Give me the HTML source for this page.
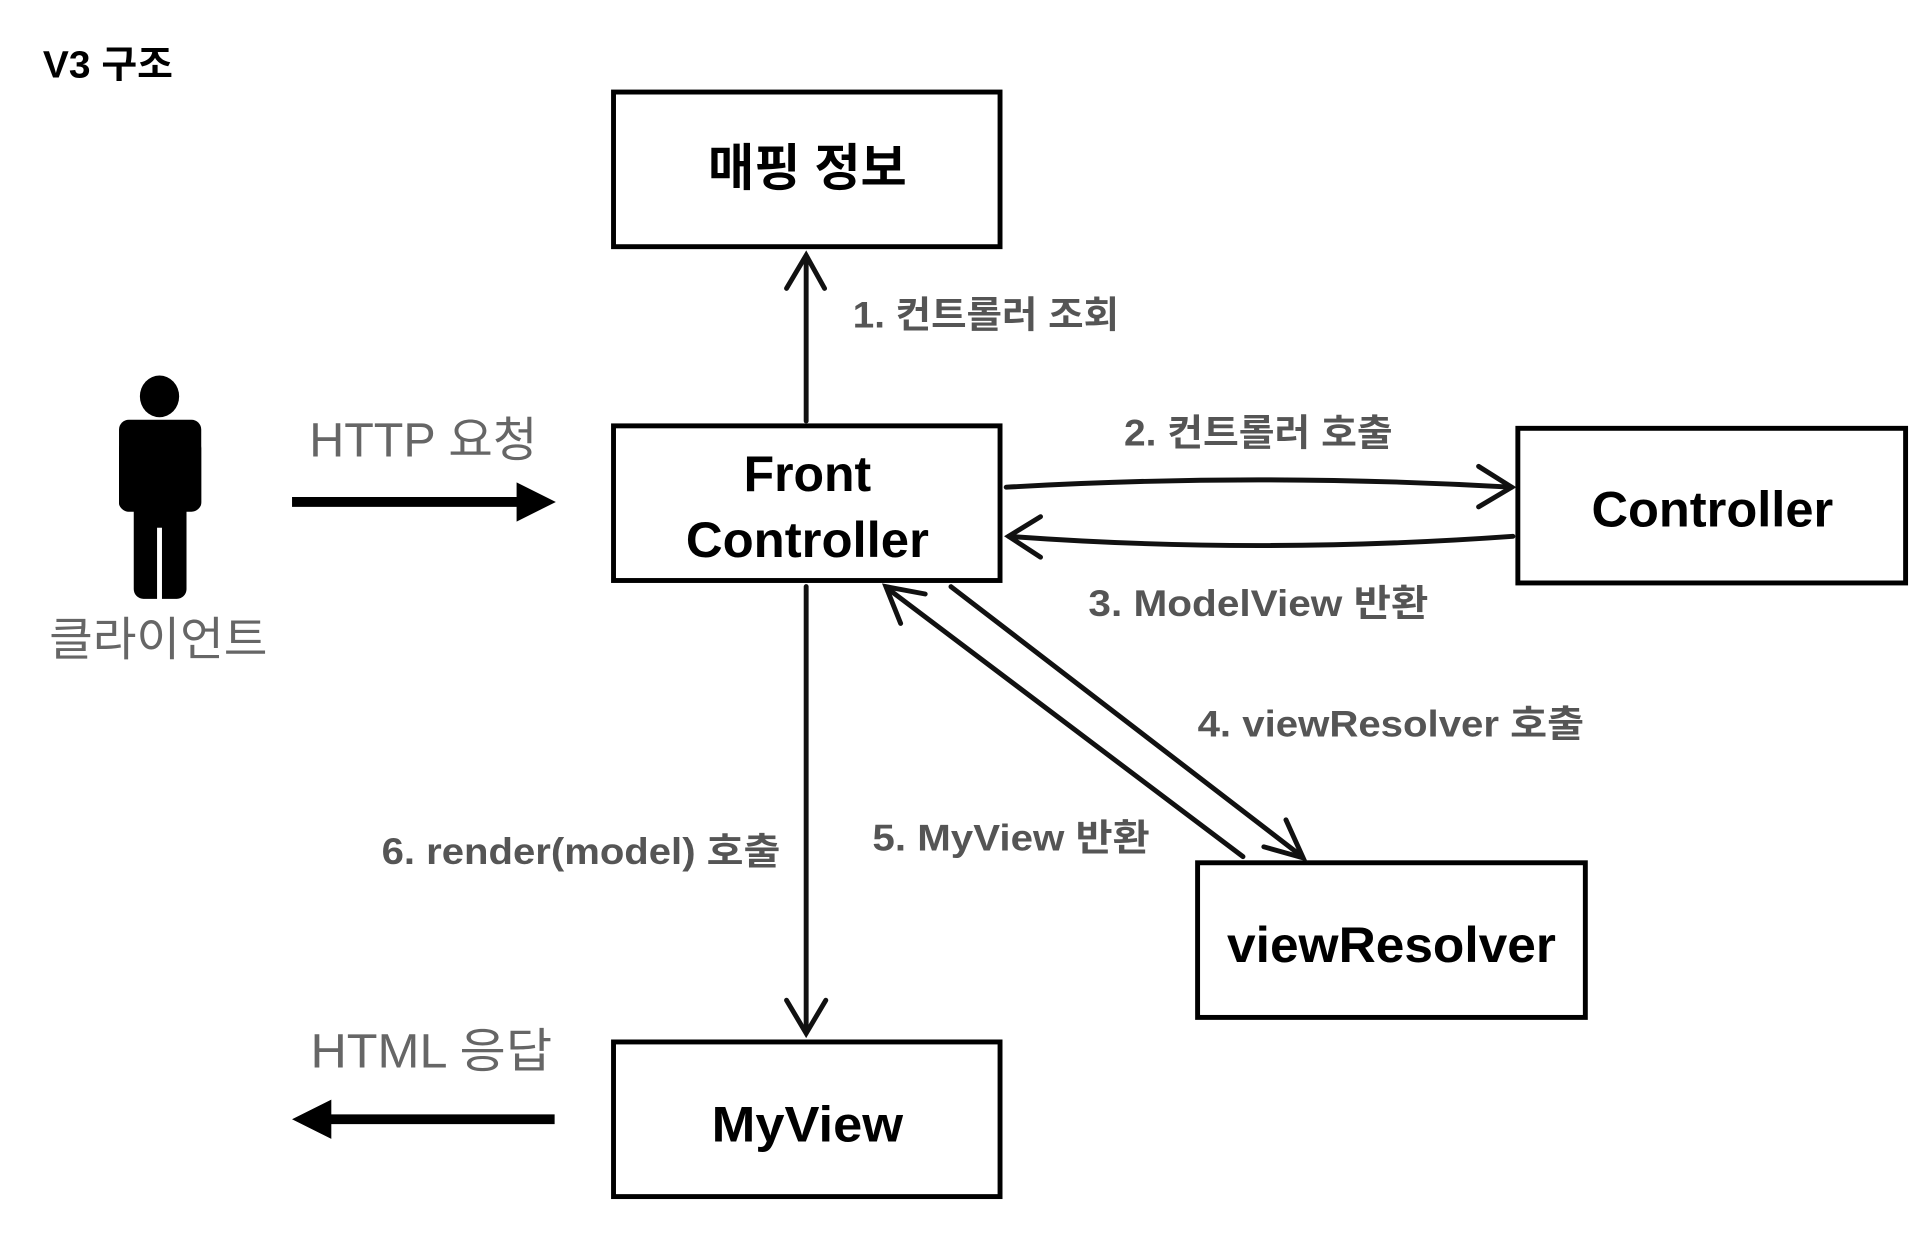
<!DOCTYPE html>
<html><head><meta charset="utf-8"><style>
html,body{margin:0;padding:0;background:#fff;}
svg{display:block;}
text{font-family:"Liberation Sans","Noto Sans CJK KR",sans-serif;}
</style></head><body>
<svg width="1924" height="1242" viewBox="0 0 1568 1012" preserveAspectRatio="none" xmlns="http://www.w3.org/2000/svg">
<text x="35" y="63" font-size="31" font-weight="bold" fill="#000" textLength="106" lengthAdjust="spacingAndGlyphs">V3 구조</text>

<g fill="none" stroke="#000" stroke-width="4">
<rect x="500" y="75" width="315" height="126"/>
<rect x="500" y="347" width="315" height="126"/>
<rect x="1237" y="349" width="316" height="126"/>
<rect x="976" y="703" width="316" height="126"/>
<rect x="500" y="849" width="315" height="126"/>
</g>
<g font-size="41" font-weight="bold" fill="#000" lengthAdjust="spacingAndGlyphs">
<text x="577" y="151" textLength="162" lengthAdjust="spacingAndGlyphs">매핑 정보</text>
<text x="606" y="400" textLength="104" lengthAdjust="spacingAndGlyphs">Front</text>
<text x="559" y="454" textLength="198" lengthAdjust="spacingAndGlyphs">Controller</text>
<text x="1297" y="429" textLength="197" lengthAdjust="spacingAndGlyphs">Controller</text>
<text x="1000" y="784" textLength="268" lengthAdjust="spacingAndGlyphs">viewResolver</text>
<text x="580" y="930" textLength="156" lengthAdjust="spacingAndGlyphs">MyView</text>
</g>

<g fill="#000">
<ellipse cx="130" cy="323" rx="16" ry="17"/>
<rect x="97" y="342" width="67" height="75" rx="8"/>
<rect x="97" y="360" width="11" height="55" rx="5"/>
<rect x="153" y="360" width="11" height="55" rx="5"/>
<rect x="109" y="360" width="43" height="128" rx="8"/>
</g>
<rect x="128" y="430" width="4" height="60" fill="#fff"/>
<text x="40" y="534" font-size="38" fill="#666" textLength="178" lengthAdjust="spacingAndGlyphs">클라이언트</text>

<text x="252" y="372" font-size="39" fill="#666" textLength="186" lengthAdjust="spacingAndGlyphs">HTTP 요청</text>
<line x1="238" y1="409" x2="425" y2="409" stroke="#000" stroke-width="8"/>
<polygon points="421,393 453,409 421,425" fill="#000"/>

<text x="253" y="870" font-size="39" fill="#666" textLength="197" lengthAdjust="spacingAndGlyphs">HTML 응답</text>
<line x1="266" y1="912" x2="452" y2="912" stroke="#000" stroke-width="8"/>
<polygon points="270,896 238,912 270,928" fill="#000"/>

<g stroke="#111" stroke-width="4" fill="none" stroke-linecap="round">
<line x1="657" y1="343" x2="657" y2="210"/>
<polyline points="641,235 657,208 672,235"/>
<path d="M820,397 Q1025,385 1232,397"/>
<polyline points="1205,380 1232,397 1205,413"/>
<path d="M1233,437 Q1025,452 822,437"/>
<polyline points="848,421 822,437 848,454"/>
<line x1="775" y1="478" x2="1060" y2="697"/>
<polyline points="1048,668 1062,699 1030,690"/>
<line x1="1013" y1="698" x2="724" y2="480"/>
<polyline points="734,508 722,478 754,484"/>
<line x1="657" y1="478" x2="657" y2="840"/>
<polyline points="641,815 657,842 673,815"/>
</g>

<g font-size="30" font-weight="bold" fill="#555">
<text x="695" y="267" textLength="217" lengthAdjust="spacingAndGlyphs">1. 컨트롤러 조회</text>
<text x="916" y="363" textLength="219" lengthAdjust="spacingAndGlyphs">2. 컨트롤러 호출</text>
<text x="887" y="502" textLength="277" lengthAdjust="spacingAndGlyphs">3. ModelView 반환</text>
<text x="976" y="600" textLength="315" lengthAdjust="spacingAndGlyphs">4. viewResolver 호출</text>
<text x="711" y="693" textLength="226" lengthAdjust="spacingAndGlyphs">5. MyView 반환</text>
<text x="311" y="704" textLength="325" lengthAdjust="spacingAndGlyphs">6. render(model) 호출</text>
</g>
</svg>
</body></html>
